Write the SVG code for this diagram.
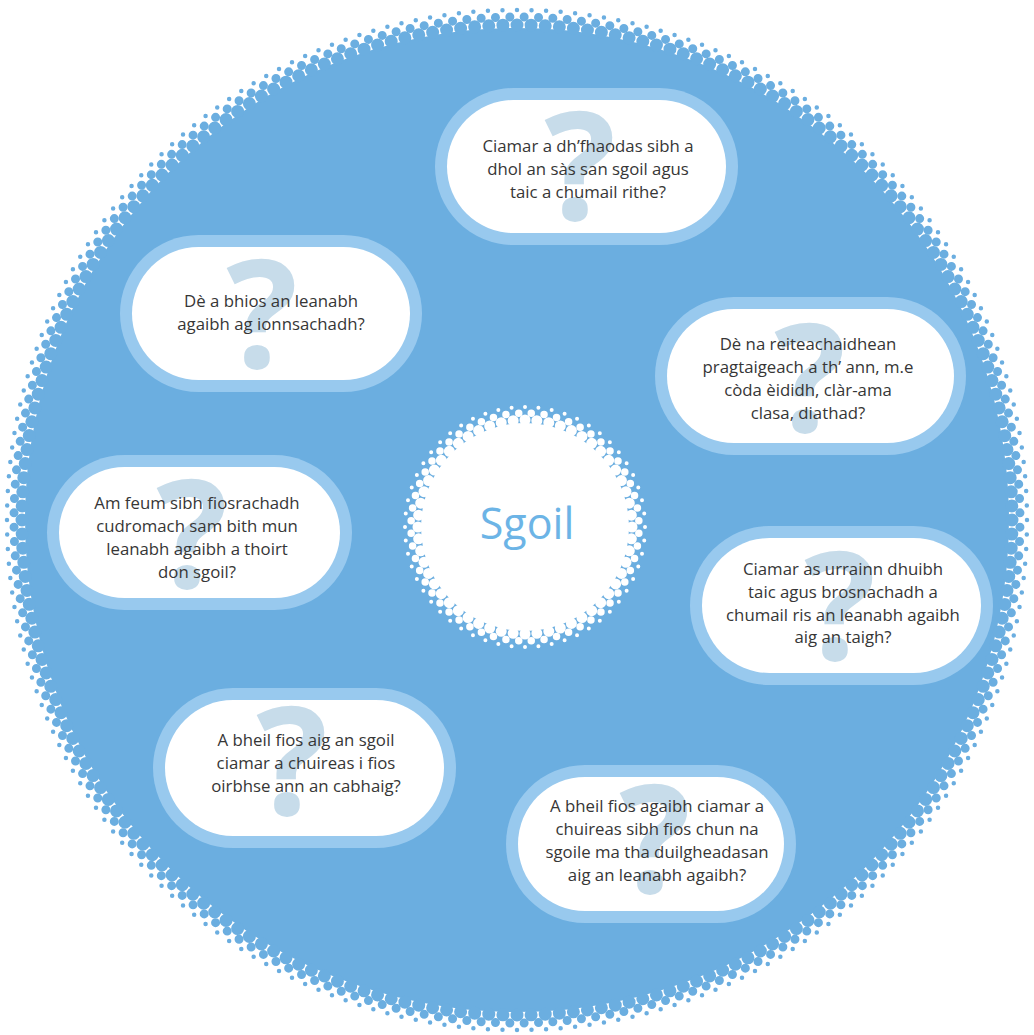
<svg xmlns="http://www.w3.org/2000/svg" width="1034" height="1035" viewBox="0 0 1034 1035">
<style>
.bg{fill:#6baee0}
.dots{fill:none;stroke:#6baee0;stroke-linecap:round}
.wdots{fill:none;stroke:#ffffff;stroke-linecap:round}
.ring{fill:#98c9ee}
.pill{fill:#ffffff}
.qm{font-family:"Open Sans","Noto Sans",sans-serif;font-weight:700;font-size:150px;fill:#c7dcea;text-anchor:middle}
.t{font-family:"Open Sans","Noto Sans",sans-serif;font-size:16.8px;fill:#363636;text-anchor:middle}
.title{font-family:"Open Sans","Noto Sans",sans-serif;font-size:43px;fill:#6cb4e6;text-anchor:middle}
</style>
<rect width="1034" height="1035" fill="#ffffff"/>
<g id="outer-circle">
<circle class="bg" cx="517" cy="520" r="492"/>
<circle class="dots" cx="517" cy="520" r="495" stroke-width="13" pathLength="220" stroke-dasharray="0 1"/>
<circle class="dots" cx="517" cy="520" r="503" stroke-width="9" pathLength="220" stroke-dasharray="0 1" stroke-dashoffset="0.5"/>
<circle class="dots" cx="517" cy="520" r="510" stroke-width="4.5" pathLength="220" stroke-dasharray="0 1"/>
</g>
<g id="centre">
<circle cx="525" cy="527" r="104" fill="#ffffff"/>
<circle class="wdots" cx="525" cy="527" r="107" stroke-width="11" pathLength="56" stroke-dasharray="0 1"/>
<circle class="wdots" cx="525" cy="527" r="114" stroke-width="7.5" pathLength="56" stroke-dasharray="0 1" stroke-dashoffset="0.5"/>
<circle class="wdots" cx="525" cy="527" r="120" stroke-width="4" pathLength="56" stroke-dasharray="0 1"/>
<text class="title" x="527" y="539">Sgoil</text>
</g>
<g id="q1">
<rect class="ring" x="435" y="88" width="303" height="157" rx="78.5"/>
<rect class="pill" x="447" y="100" width="279" height="133" rx="66.5"/>
<text class="qm" x="580" y="220">?</text>
<text class="t" x="588" y="152">Ciamar a dh’fhaodas sibh a</text>
<text class="t" x="588" y="175">dhol an sàs san sgoil agus</text>
<text class="t" x="588" y="198">taic a chumail rithe?</text>
</g>
<g id="q2">
<rect class="ring" x="120" y="235" width="302" height="157" rx="78.5"/>
<rect class="pill" x="132" y="247" width="278" height="133" rx="66.5"/>
<text class="qm" x="262" y="368">?</text>
<text class="t" x="271" y="307">Dè a bhios an leanabh</text>
<text class="t" x="271" y="330">agaibh ag ionnsachadh?</text>
</g>
<g id="q3">
<rect class="ring" x="655" y="297" width="311" height="158" rx="79"/>
<rect class="pill" x="667" y="309" width="287" height="134" rx="67"/>
<text class="qm" x="810" y="432">?</text>
<text class="t" x="808" y="350">Dè na reiteachaidhean</text>
<text class="t" x="808" y="373">pragtaigeach a th’ ann, m.e</text>
<text class="t" x="808" y="396">còda èididh, clàr-ama</text>
<text class="t" x="808" y="419">clasa, diathad?</text>
</g>
<g id="q4">
<rect class="ring" x="47" y="455" width="305" height="155" rx="77.5"/>
<rect class="pill" x="59" y="467" width="281" height="131" rx="65.5"/>
<text class="qm" x="192" y="588">?</text>
<text class="t" x="197" y="509">Am feum sibh fiosrachadh</text>
<text class="t" x="197" y="532">cudromach sam bith mun</text>
<text class="t" x="197" y="555">leanabh agaibh a thoirt</text>
<text class="t" x="197" y="578">don sgoil?</text>
</g>
<g id="q5">
<rect class="ring" x="690" y="526" width="303" height="159" rx="79.5"/>
<rect class="pill" x="702" y="538" width="279" height="135" rx="67.5"/>
<text class="qm" x="840" y="660">?</text>
<text class="t" x="843" y="575">Ciamar as urrainn dhuibh</text>
<text class="t" x="843" y="598">taic agus brosnachadh a</text>
<text class="t" x="843" y="621">chumail ris an leanabh agaibh</text>
<text class="t" x="843" y="643">aig an taigh?</text>
</g>
<g id="q6">
<rect class="ring" x="153" y="688" width="303" height="160" rx="80"/>
<rect class="pill" x="165" y="700" width="279" height="136" rx="68"/>
<text class="qm" x="292" y="815">?</text>
<text class="t" x="306" y="746">A bheil fios aig an sgoil</text>
<text class="t" x="306" y="769">ciamar a chuireas i fios</text>
<text class="t" x="306" y="792">oirbhse ann an cabhaig?</text>
</g>
<g id="q7">
<rect class="ring" x="506" y="765" width="290" height="158" rx="79"/>
<rect class="pill" x="518" y="777" width="266" height="134" rx="67"/>
<text class="qm" x="655" y="893">?</text>
<text class="t" x="657" y="812">A bheil fios agaibh ciamar a</text>
<text class="t" x="657" y="835">chuireas sibh fios chun na</text>
<text class="t" x="657" y="858">sgoile ma tha duilgheadasan</text>
<text class="t" x="657" y="881">aig an leanabh agaibh?</text>
</g>
<g id="connectors"/>
</svg>
